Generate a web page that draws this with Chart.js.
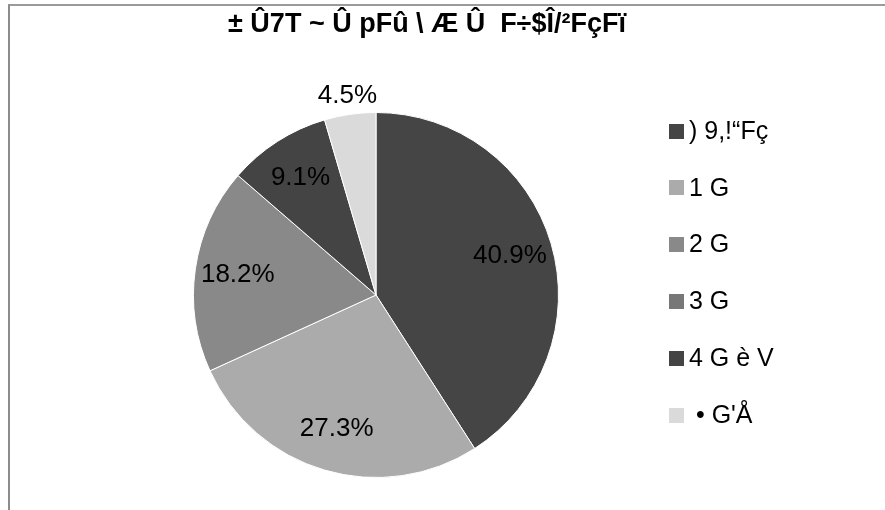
<!DOCTYPE html>
<html>
<head>
<meta charset="utf-8">
<script src="https://cdn.jsdelivr.net/npm/chart.js@4/dist/chart.umd.min.js"></script>
<style>
  html, body { margin: 0; padding: 0; background: #ffffff; overflow: hidden; }
  #wrap { position: relative; width: 885px; height: 510px; }
  #frame { position: absolute; left: 8px; top: 4px; width: 900px; height: 520px;
           border-top: 2px solid #9a9a9a; border-left: 2px solid #8c8c8c; box-sizing: border-box; }
  canvas { position: absolute; left: 0; top: 0; }
</style>
</head>
<body>
<div id="wrap">
  <div id="frame"></div>
  <canvas id="c" width="885" height="510"></canvas>
</div>
<script>
const chartTitle = "± Û7T ~ Û pFû \\ Æ Û  F÷$Î/²FçFï";
const categories = [") 9,!\u201CFç", "1 G", "2 G", "3 G", "4 G è V", " • G'Å"];
const values = [9, 6, 4, 0, 2, 1];
const sliceColors = ["#454545", "#ababab", "#898989", "#777777", "#444444", "#dadada"];

const FONT = "'Liberation Sans', Arial, sans-serif";

const titlePlugin = {
  id: 'customTitle',
  afterDraw(chart) {
    const ctx = chart.ctx;
    ctx.save();
    ctx.font = "bold 27px " + FONT;
    ctx.fillStyle = "#000000";
    ctx.textAlign = "center";
    ctx.textBaseline = "middle";
    ctx.fillText(chartTitle, 427, 25);
    ctx.restore();
  }
};

const legendPlugin = {
  id: 'customLegend',
  afterDraw(chart) {
    const ctx = chart.ctx;
    const ds = chart.data.datasets[0];
    ctx.save();
    ctx.font = "25px " + FONT;
    ctx.textBaseline = "middle";
    ctx.textAlign = "left";
    const x0 = 669, y0 = 131, step = 56.8, box = 15;
    chart.data.labels.forEach((lab, i) => {
      const y = y0 + i * step;
      ctx.fillStyle = ds.backgroundColor[i];
      ctx.fillRect(x0, Math.round(y - box / 2), box, box);
      ctx.fillStyle = "#000000";
      ctx.fillText(lab, x0 + box + 5, y + 1);
    });
    ctx.restore();
  }
};

const labelPlugin = {
  id: 'pctLabels',
  afterDatasetsDraw(chart) {
    const ctx = chart.ctx;
    const meta = chart.getDatasetMeta(0);
    const data = chart.data.datasets[0].data;
    const total = data.reduce((a, b) => a + b, 0);
    ctx.save();
    ctx.font = "26px " + FONT;
    ctx.fillStyle = "#000000";
    ctx.textAlign = "center";
    ctx.textBaseline = "middle";
    meta.data.forEach((arc, i) => {
      const v = data[i];
      if (!v) return;
      const frac = v / total;
      const p = arc.getProps(['x', 'y', 'startAngle', 'endAngle', 'outerRadius'], true);
      const mid = (p.startAngle + p.endAngle) / 2;
      const f = frac < 0.06 ? 1.1 : 0.765;
      const x = p.x + Math.cos(mid) * p.outerRadius * f;
      const y = p.y + Math.sin(mid) * p.outerRadius * f;
      ctx.fillText((frac * 100).toFixed(1) + "%", x, y);
    });
    ctx.restore();
  }
};

new Chart(document.getElementById('c'), {
  type: 'pie',
  data: {
    labels: categories,
    datasets: [{
      data: values,
      backgroundColor: sliceColors,
      borderColor: "#ffffff",
      borderWidth: 1
    }]
  },
  options: {
    responsive: false,
    animation: false,
    layout: { padding: { left: 193, right: 326, top: 112, bottom: 32 } },
    plugins: {
      legend: { display: false },
      title: { display: false },
      tooltip: { enabled: false }
    }
  },
  plugins: [labelPlugin, legendPlugin, titlePlugin]
});
</script>
</body>
</html>
